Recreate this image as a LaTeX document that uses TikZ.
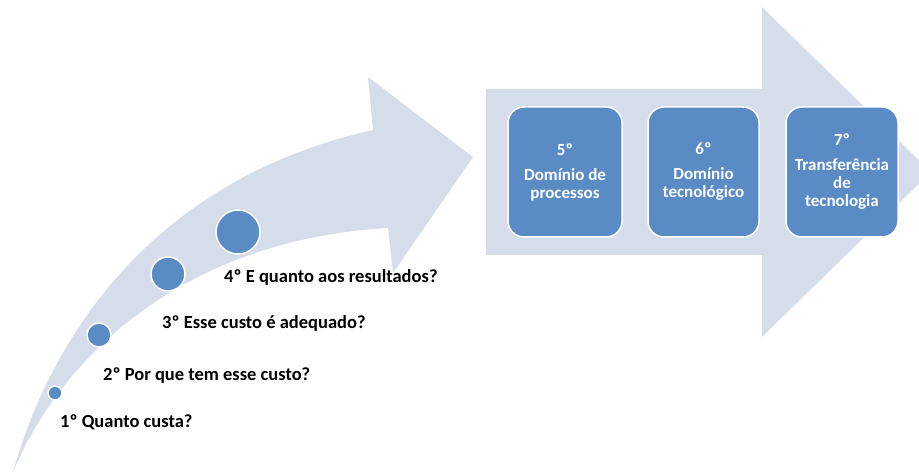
\documentclass[tikz,border=0pt]{standalone}
\usepackage{fontspec}
\setmainfont{Carlito}
\definecolor{arrowfill}{RGB}{214,221,234}
\definecolor{boxfill}{RGB}{91,139,197}
\begin{document}
\begin{tikzpicture}[x=1pt,y=-1pt,
  dot/.style={circle,fill=boxfill,draw=white,line width=1.5pt,inner sep=0pt},
  qtext/.style={anchor=west,inner sep=0pt,font=\fontsize{18.5}{21}\selectfont\bfseries,text=black},
  stepbox/.style={rounded corners=16pt,fill=boxfill,draw=white,line width=1.5pt,
    minimum width=114pt,minimum height=130pt,align=center,text=white,
    font=\fontsize{17}{18}\selectfont\bfseries,inner sep=0pt}]
\useasboundingbox (0,0) rectangle (919,473);
% curved arrow
\fill[arrowfill] (13,472) .. controls (50,340) and (150,180) .. (373,130)
  -- (368,77) -- (473,157) -- (393,273) -- (388,228)
  .. controls (180,240) and (60,360) .. (13,472) -- cycle;
% block arrow
\fill[arrowfill] (486,89) -- (762,89) -- (762,7) -- (931,172) -- (762,337)
  -- (762,255) -- (486,255) -- cycle;
% circles
\node[dot,minimum size=14pt] (c1) at (55,393) {};
\node[dot,minimum size=24pt] (c2) at (99,335) {};
\node[dot,minimum size=34pt] (c3) at (168,274) {};
\node[dot,minimum size=44pt] (c4) at (238,232) {};
% questions
\node[qtext] (q1) at (60,422) {1º Quanto custa?};
\node[qtext] (q2) at (103,376) {2º Por que tem esse custo?};
\node[qtext] (q3) at (162,323) {3º Esse custo é adequado?};
\node[qtext] (q4) at (224,277) {4º E quanto aos resultados?};
% boxes
\node[stepbox] (b5) at (565,172) {5º\\[7pt]Domínio de\\processos};
\node[stepbox,minimum width=111pt] (b6) at (703.5,172) {6º\\[7pt]Domínio\\tecnológico};
\node[stepbox,minimum width=112pt] (b7) at (842,172) {7º\\[7pt]Transferência\\de\\tecnologia};
\end{tikzpicture}
\end{document}
